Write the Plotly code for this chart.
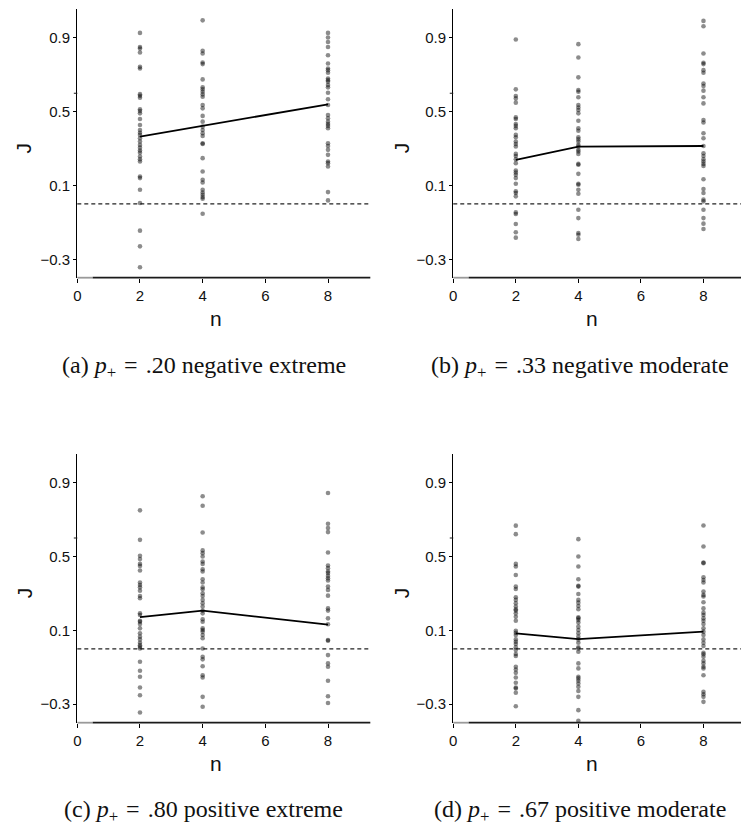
import plotly.graph_objects as go

# ---------------- data ----------------
n_values = [2, 4, 8]
x_ticks = [0, 2, 4, 6, 8]
y_ticks = [-0.3, 0.1, 0.5, 0.9]
y_ticktext = ["\u22120.3", "0.1", "0.5", "0.9"]

captions = [
    "(a) <i>p</i><sub>+</sub>\u2004=\u2004.20 negative extreme",
    "(b) <i>p</i><sub>+</sub>\u2004=\u2004.33 negative moderate",
    "(c) <i>p</i><sub>+</sub>\u2004=\u2004.80 positive extreme",
    "(d) <i>p</i><sub>+</sub>\u2004=\u2004.67 positive moderate",
]

# panel (a)
a_n2 = [0.927, 0.851, 0.842, 0.821, 0.743, 0.734, 0.595, 0.586, 0.576, 0.513, 0.504, 0.491,
        0.460, 0.428, 0.401, 0.386, 0.374, 0.356, 0.338, 0.320, 0.305, 0.289, 0.278, 0.257,
        0.242, 0.230, 0.149, 0.140, 0.077, 0.005, -0.145, -0.230, -0.343, -0.41]
a_n4 = [0.995, 0.830, 0.815, 0.767, 0.758, 0.675, 0.632, 0.621, 0.608, 0.594, 0.581, 0.536,
        0.518, 0.477, 0.446, 0.419, 0.401, 0.383, 0.368, 0.329, 0.325, 0.248, 0.176, 0.131,
        0.116, 0.077, 0.062, 0.050, 0.037, 0.028, -0.053]
a_n8 = [0.927, 0.902, 0.878, 0.851, 0.806, 0.761, 0.734, 0.725, 0.711, 0.680, 0.671, 0.662,
        0.644, 0.632, 0.603, 0.567, 0.536, 0.482, 0.464, 0.446, 0.433, 0.423, 0.410, 0.329,
        0.314, 0.293, 0.266, 0.230, 0.221, 0.203, 0.064, 0.019]
a_mean = [0.365, 0.423, 0.540]

# panel (b)
b_n2 = [0.891, 0.621, 0.585, 0.572, 0.549, 0.469, 0.460, 0.433, 0.423, 0.410, 0.374, 0.361,
        0.338, 0.325, 0.311, 0.271, 0.260, 0.242, 0.221, 0.181, 0.170, 0.158, 0.140, 0.109,
        0.068, 0.059, 0.041, -0.046, -0.055, -0.109, -0.154, -0.183]
b_n4 = [0.866, 0.794, 0.686, 0.617, 0.608, 0.578, 0.536, 0.523, 0.509, 0.491, 0.451, 0.410,
        0.397, 0.361, 0.350, 0.338, 0.320, 0.311, 0.293, 0.284, 0.271, 0.217, 0.212, 0.163,
        0.109, 0.104, 0.077, 0.055, -0.032, -0.077, -0.158, -0.167, -0.190]
b_n8 = [0.992, 0.963, 0.815, 0.765, 0.758, 0.725, 0.711, 0.653, 0.639, 0.614, 0.578, 0.545,
        0.455, 0.441, 0.383, 0.356, 0.314, 0.275, 0.260, 0.242, 0.230, 0.217, 0.206, 0.134,
        0.081, 0.059, 0.023, 0.014, -0.032, -0.077, -0.107, -0.136]
b_mean = [0.239, 0.311, 0.314]

# panel (c)
c_n2 = [0.750, 0.590, 0.504, 0.486, 0.460, 0.449, 0.424, 0.359, 0.346, 0.333, 0.315, 0.286,
        0.274, 0.192, 0.183, 0.152, 0.147, 0.134, 0.111, 0.084, 0.066, 0.051, 0.033, 0.020,
        0.011, 0.002, -0.070, -0.119, -0.151, -0.209, -0.251, -0.345]
c_n4 = [0.826, 0.775, 0.630, 0.533, 0.518, 0.500, 0.473, 0.460, 0.431, 0.419, 0.377, 0.359,
        0.333, 0.323, 0.301, 0.286, 0.265, 0.247, 0.229, 0.207, 0.192, 0.160, 0.147, 0.111,
        0.102, 0.093, 0.075, 0.057, 0.002, -0.043, -0.057, -0.094, -0.143, -0.155, -0.260,
        -0.314]
c_n8 = [0.844, 0.677, 0.654, 0.632, 0.522, 0.451, 0.437, 0.419, 0.410, 0.395, 0.382, 0.370,
        0.337, 0.319, 0.288, 0.219, 0.207, 0.165, 0.133, 0.048, 0.044, -0.034, -0.079, -0.097,
        -0.173, -0.257, -0.293, -0.42]
c_mean = [0.172, 0.207, 0.131]

# panel (d)
d_n2 = [0.667, 0.621, 0.460, 0.446, 0.400, 0.337, 0.324, 0.279, 0.265, 0.247, 0.229, 0.214,
        0.207, 0.192, 0.174, 0.152, 0.098, 0.087, 0.075, 0.051, 0.038, 0.026, 0.008, -0.007,
        -0.028, -0.039, -0.097, -0.112, -0.130, -0.155, -0.184, -0.209, -0.215, -0.238, -0.311]
d_n4 = [0.594, 0.500, 0.446, 0.377, 0.341, 0.337, 0.297, 0.265, 0.250, 0.232, 0.214, 0.171,
        0.165, 0.156, 0.142, 0.120, 0.102, 0.084, 0.066, 0.051, 0.033, 0.008, 0.002, -0.016,
        -0.079, -0.106, -0.151, -0.160, -0.173, -0.188, -0.206, -0.228, -0.260, -0.332, -0.39,
        -0.42]
d_n8 = [0.668, 0.554, 0.467, 0.464, 0.388, 0.373, 0.359, 0.310, 0.292, 0.283, 0.252, 0.219,
        0.196, 0.183, 0.165, 0.152, 0.134, 0.111, 0.093, 0.075, 0.051, 0.033, 0.015, -0.021,
        -0.029, -0.043, -0.065, -0.079, -0.097, -0.106, -0.143, -0.233, -0.246, -0.260, -0.287]
d_mean = [0.084, 0.053, 0.093]

panels = [
    (a_n2, a_n4, a_n8, a_mean),
    (b_n2, b_n4, b_n8, b_mean),
    (c_n2, c_n4, c_n8, c_mean),
    (d_n2, d_n4, d_n8, d_mean),
]

# ---------------- layout geometry ----------------
W, H = 741, 827
# (x0, x1, ytop, ybottom) in pixels, and x-range max
geom = [
    (73.7, 368.3, 9.3, 277.7, 9.35),
    (451.7, 741.0, 9.3, 277.7, 9.2),
    (73.7, 368.3, 454.0, 722.7, 9.35),
    (451.7, 741.0, 454.0, 722.7, 9.2),
]
y_range = [-0.4, 1.055]

TICK_FONT = dict(family="Liberation Sans, Arial, sans-serif", size=15, color="#111")
TITLE_FONT = dict(family="Liberation Sans, Arial, sans-serif", size=21, color="#111")
CAP_FONT = dict(family="Liberation Serif, Times New Roman, serif", size=24, color="#111")

fig = go.Figure()
layout = dict(
    width=W, height=H,
    margin=dict(l=0, r=0, t=0, b=0),
    paper_bgcolor="white", plot_bgcolor="rgba(0,0,0,0)",
    showlegend=False,
    shapes=[], annotations=[],
)

for i, (p2, p4, p8, pmean) in enumerate(panels):
    k = "" if i == 0 else str(i + 1)
    xa, ya = "x" + k, "y" + k
    x0, x1, yt, yb, xmax = geom[i]

    for nv, vals in zip(n_values, [p2, p4, p8]):
        fig.add_trace(go.Scatter(
            x=[nv] * len(vals), y=vals, mode="markers",
            marker=dict(size=4.6, color="rgba(0,0,0,0.45)", line=dict(width=0)),
            cliponaxis=False, xaxis=xa, yaxis=ya, hoverinfo="skip",
        ))
    fig.add_trace(go.Scatter(
        x=n_values, y=pmean, mode="lines",
        line=dict(color="black", width=1.8),
        xaxis=xa, yaxis=ya, hoverinfo="skip",
    ))

    layout["xaxis" + k] = dict(
        domain=[x0 / W, x1 / W], range=[0, xmax], anchor=ya,
        showgrid=False, zeroline=False, showline=False,
        tickmode="array", tickvals=x_ticks, ticks="outside", ticklen=4,
        tickcolor="black", tickwidth=1.2, tickfont=TICK_FONT,
    )
    layout["yaxis" + k] = dict(
        domain=[1 - yb / H, 1 - yt / H], range=y_range, anchor=xa,
        showgrid=False, zeroline=False, showline=True, linecolor="black", linewidth=1.3,
        tickmode="array", tickvals=y_ticks, ticktext=y_ticktext,
        ticks="outside", ticklen=3, tickcolor="black", tickwidth=1, tickfont=TICK_FONT,
    )

    # x-axis spine as thin filled rectangles in paper coordinates
    yp0 = 1 - (yb + 0.9) / H
    yp1 = 1 - (yb - 0.9) / H
    xs = x0 / W
    xh = (x0 + 15.5) / W
    xe = x1 / W
    layout["shapes"].append(dict(type="rect", xref="paper", yref="paper",
                                 x0=xs, x1=xh, y0=yp0, y1=yp1,
                                 fillcolor="#9a9a9a", line=dict(width=0), layer="above"))
    layout["shapes"].append(dict(type="rect", xref="paper", yref="paper",
                                 x0=xh, x1=xe, y0=yp0, y1=yp1,
                                 fillcolor="#1a1a1a", line=dict(width=0), layer="above"))
    # minor tick at 0.6 on the y axis
    layout["shapes"].append(dict(type="rect", xref="paper", yref=ya,
                                 x0=(x0 - 3.5) / W, x1=x0 / W, y0=0.597, y1=0.603,
                                 fillcolor="#1a1a1a", line=dict(width=0), layer="above"))
    # dashed reference line at J = 0
    layout["shapes"].append(dict(type="line", xref=xa + " domain", yref=ya,
                                 x0=0, x1=1, y0=0, y1=0,
                                 line=dict(color="#222", width=1.1, dash="4px,3px"),
                                 layer="below"))

    # axis titles
    left = 0 if i % 2 == 0 else 380
    layout["annotations"].append(dict(
        text="J", x=(left + 20) / W, y=1 - ((yt + yb) / 2 + 4) / H,
        xref="paper", yref="paper", showarrow=False, textangle=-90,
        font=TITLE_FONT, xanchor="center", yanchor="middle"))
    layout["annotations"].append(dict(
        text="n", x=(x0 + 139.5) / W, y=1 - (yb + 41) / H,
        xref="paper", yref="paper", showarrow=False,
        font=TITLE_FONT, xanchor="center", yanchor="middle"))
    # caption
    cap_x = 201 if i % 2 == 0 else 579
    cap_y = 367 if i < 2 else 811
    layout["annotations"].append(dict(
        text=captions[i], x=cap_x / W, y=1 - cap_y / H,
        xref="paper", yref="paper", showarrow=False,
        font=CAP_FONT, xanchor="center", yanchor="middle"))

fig.update_layout(**layout)
fig.write_html("out.html")
